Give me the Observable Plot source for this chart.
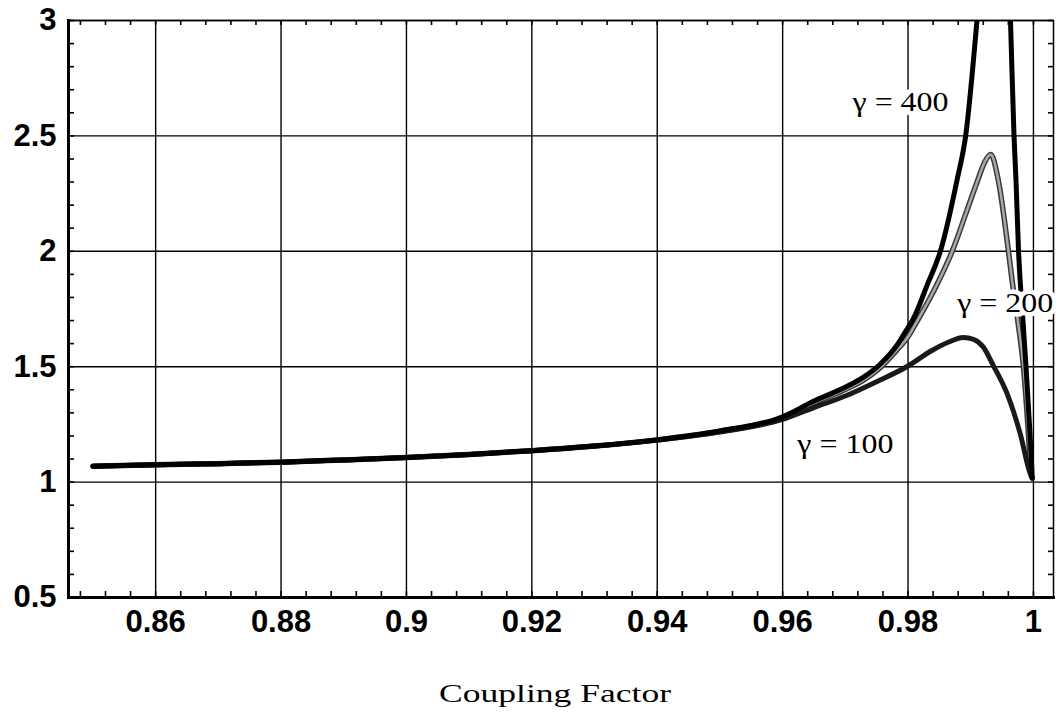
<!DOCTYPE html>
<html><head><meta charset="utf-8">
<script src="https://cdn.jsdelivr.net/npm/d3@7"></script>
<script src="https://cdn.jsdelivr.net/npm/@observablehq/plot@0.6"></script>
<style>body{margin:0;background:#fff}</style>
</head><body><div id="chart"></div>
<script>
// Tick values and labels
const xTicks = [0.86, 0.88, 0.90, 0.92, 0.94, 0.96, 0.98, 1.00];
const xTickLabels = ["0.86", "0.88", "0.9", "0.92", "0.94", "0.96", "0.98", "1"];
const yTicks = [0.5, 1, 1.5, 2, 2.5, 3];
const yTickLabels = ["0.5", "1", "1.5", "2", "2.5", "3"];

// gamma = 100
const g100X = [0.85,0.86,0.87,0.88,0.89,0.90,0.91,0.92,0.93,0.94,0.95,0.96,0.9649,0.9702,0.975,0.98,0.9836,0.9865,0.9888,0.9905,0.9920,0.9936,0.9958,0.9979,0.9995,0.9998];
const g100Y = [1.069,1.075,1.080,1.086,1.096,1.107,1.120,1.136,1.156,1.182,1.217,1.272,1.322,1.375,1.435,1.503,1.567,1.607,1.627,1.618,1.585,1.505,1.383,1.209,1.036,1.018];

// gamma = 200
const g200X = [0.85,0.86,0.87,0.88,0.89,0.90,0.91,0.92,0.93,0.94,0.95,0.96,0.9649,0.9702,0.9729,0.9756,0.9782,0.98,0.9815,0.9845,0.9871,0.9892,0.9911,0.9922,0.9932,0.9944,0.9960,0.9966,0.9975,0.9984,0.9992,0.9996,0.9998];
const g200Y = [1.069,1.075,1.080,1.086,1.096,1.107,1.120,1.136,1.156,1.183,1.220,1.279,1.342,1.404,1.442,1.497,1.572,1.630,1.700,1.850,2.004,2.162,2.307,2.385,2.419,2.307,2.004,1.873,1.700,1.501,1.211,1.038,1.018];

// gamma = 400 (two branches, peak is above the frame)
const g400X = [0.85,0.86,0.87,0.88,0.89,0.90,0.91,0.92,0.93,0.94,0.95,0.96,0.9649,0.9702,0.9729,0.9756,0.9782,0.98,0.9807,0.9830,0.9852,0.9878,0.9892,0.9910,0.9912];
const g400Y = [1.069,1.075,1.080,1.086,1.096,1.107,1.120,1.136,1.156,1.183,1.222,1.283,1.350,1.414,1.455,1.512,1.592,1.670,1.700,1.850,2.004,2.307,2.502,3.000,3.060];
const g400RX = [0.99627,0.99634,0.99690,0.99722,0.99762,0.99833,0.99881,0.99945,0.99977,0.9998];
const g400RY = [3.060,3.000,2.502,2.307,2.004,1.700,1.501,1.211,1.038,1.018];

// curve labels
const labelText = ["γ = 400", "γ = 200", "γ = 100"];
const labelX = [0.9788, 0.9955, 0.9700];
const labelY = [2.645, 1.778, 1.163];
const xTitle = "Coupling Factor";

const toRows = (xs, ys, branch) => xs.map((x, i) => ({x, y: ys[i], branch}));
const d100 = toRows(g100X, g100Y, "a");
const d200 = toRows(g200X, g200Y, "a");
const d400 = toRows(g400X, g400Y, "a").concat(toRows(g400RX, g400RY, "b"));
const labels = labelText.map((t, i) => ({t, x: labelX[i], y: labelY[i]}));

const xMinor = d3.range(212, 251).map(i => i * 0.004);
const yMinor = d3.range(5, 31).map(i => i / 10);

const W = 1058, H = 715, mL = 68, mR = 5, mT = 20, mB = 118;
const pw = W - mL - mR, ph = H - mT - mB;
const serif = "'Liberation Serif', 'Times New Roman', serif";

const chart = Plot.plot({
  width: W, height: H,
  marginLeft: mL, marginRight: mR, marginTop: mT, marginBottom: mB,
  x: {domain: [0.8461, 1.0032], axis: null},
  y: {domain: [0.5, 3], axis: null},
  style: {background: "white", fontFamily: "'Liberation Sans', Arial, sans-serif", fontWeight: "bold", fontSize: "31px", color: "black"},
  marks: [
    Plot.gridX(xTicks, {stroke: "black", strokeOpacity: 1, strokeWidth: 1.4}),
    Plot.gridY(yTicks, {stroke: "black", strokeOpacity: 1, strokeWidth: 1.4}),
    Plot.ruleX(xMinor, {x: d => d, insetTop: ph - 6, stroke: "black", strokeWidth: 1.6}),
    Plot.ruleX(xMinor, {x: d => d, insetBottom: ph - 5, stroke: "black", strokeWidth: 1.6}),
    Plot.ruleY(yMinor, {y: d => d, insetRight: pw - 6, stroke: "black", strokeWidth: 1.6}),
    Plot.ruleY(yMinor, {y: d => d, insetLeft: pw - 5, stroke: "black", strokeWidth: 1.6}),
    Plot.frame({stroke: "black", strokeWidth: 1.5}),
    Plot.frame({anchor: "left", stroke: "black", strokeWidth: 3}),
    Plot.frame({anchor: "bottom", stroke: "black", strokeWidth: 3}),
    Plot.axisX(xTicks, {tickSize: 0, tickPadding: 12, tickFormat: d => xTickLabels[xTicks.indexOf(d)], label: null}),
    Plot.axisY(yTicks, {tickSize: 0, tickPadding: 12, tickFormat: d => yTickLabels[yTicks.indexOf(d)], label: null}),
    Plot.line(d200, {x: "x", y: "y", curve: "monotone-x", stroke: "#3a3a3a", strokeWidth: 5.5, clip: true}),
    Plot.line(d200, {x: "x", y: "y", curve: "monotone-x", stroke: "#a8a8a8", strokeWidth: 2.6, strokeDasharray: "1.5 1.5", clip: true}),
    Plot.line(d100, {x: "x", y: "y", curve: "monotone-x", stroke: "#1a1a1a", strokeWidth: 5, clip: true}),
    Plot.line(d400, {x: "x", y: "y", z: "branch", curve: "monotone-x", stroke: "black", strokeWidth: 5, clip: true}),
    Plot.text(labels, {x: "x", y: "y", text: "t", fontFamily: serif, fontWeight: "normal", fontSize: 28, fill: "black", stroke: "white", strokeWidth: 9, paintOrder: "stroke", className: "curve-label"}),
    Plot.text([xTitle], {frameAnchor: "bottom", dx: -6, dy: 104, lineAnchor: "bottom", fontFamily: serif, fontWeight: "normal", fontSize: 26, fill: "black", className: "x-title"})
  ]
});
// widen the serif labels to match the wide lettering of the original
d3.select(chart).selectAll(".curve-label text").attr("textLength", 96).attr("lengthAdjust", "spacingAndGlyphs");
d3.select(chart).selectAll(".x-title text").attr("textLength", 232).attr("lengthAdjust", "spacingAndGlyphs");
document.getElementById("chart").appendChild(chart);
</script>
</body></html>
